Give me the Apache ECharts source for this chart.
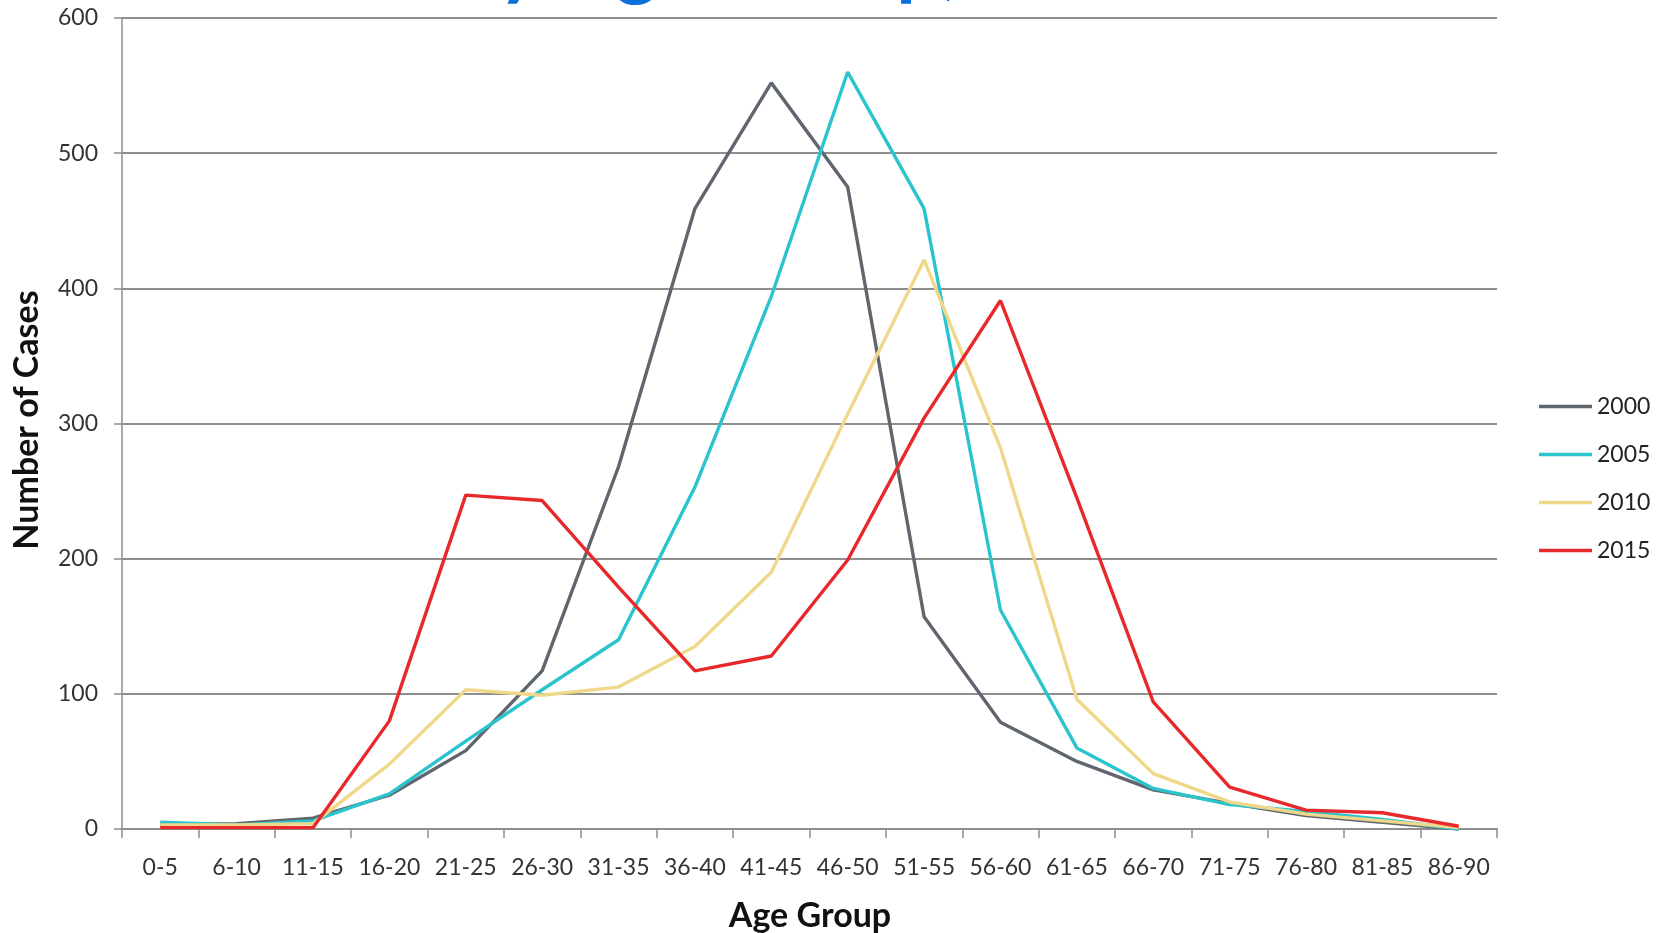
<!DOCTYPE html>
<html>
<head>
<meta charset="utf-8">
<title>Cases by Age Group</title>
<script src="https://cdn.jsdelivr.net/npm/echarts@6/dist/echarts.min.js"></script>
<style>
  html, body { margin: 0; padding: 0; background: #fff; }
  #chart { width: 1669px; height: 933px; }
</style>
</head>
<body>
<div id="chart"></div>
<script>
// age groups on the x axis
var ageGroups = ['0-5', '6-10', '11-15', '16-20', '21-25', '26-30', '31-35', '36-40', '41-45',
  '46-50', '51-55', '56-60', '61-65', '66-70', '71-75', '76-80', '81-85', '86-90']

// number of cases per year
var cases2000 = [3, 4, 8, 25, 58, 117, 268, 459, 552, 475, 157, 79, 50, 29, 19, 10, 5, 0]
var cases2005 = [5, 3, 6, 26, 65, 103, 140, 253, 394, 560, 459, 162, 60, 30, 18, 13, 7, 0]
var cases2010 = [3, 3, 4, 48, 103, 99, 105, 135, 190, 307, 421, 282, 96, 41, 20, 11, 6, 1]
var cases2015 = [1, 1, 1, 80, 247, 243, 179, 117, 128, 199, 304, 391, 245, 94, 31, 14, 12, 2]

var years = ['2000', '2005', '2010', '2015']
var colors = ['#5f666e', '#2bc4cd', '#f0d88a', '#e8292b']
var seriesData = [cases2000, cases2005, cases2010, cases2015]

var gridColor = '#8e8e8e'
var labelFont = 'Lato, "Open Sans", sans-serif'

var chart = echarts.init(document.getElementById('chart'))

var series = years.map(function (y, i) {
  return {
    name: y,
    type: 'line',
    data: seriesData[i],
    symbol: 'none',
    smooth: false,
    lineStyle: { color: colors[i], width: 3.4 },
    itemStyle: { color: colors[i] },
    z: 2 + i
  }
})

var option = {
  animation: false,
  backgroundColor: '#fff',
  color: colors,
  grid: {
    left: 122,
    right: 172,
    top: 18,
    bottom: 104,
    containLabel: false
  },
  legend: {
    data: years,
    orient: 'vertical',
    left: 1534,
    top: 390,
    itemWidth: 53,
    itemHeight: 14,
    itemGap: 25,
    icon: 'path://M0,6 L53,6 L53,9.5 L0,9.5 Z',
    textStyle: { fontSize: 23, color: '#222', fontFamily: labelFont }
  },
  xAxis: {
    type: 'category',
    data: ageGroups,
    boundaryGap: true,
    axisLine: { show: true, lineStyle: { color: gridColor, width: 2 } },
    axisTick: { show: true, length: 9, interval: 0, lineStyle: { color: gridColor, width: 1.5 } },
    axisLabel: { interval: 0, margin: 27, fontSize: 23, color: '#333', fontFamily: labelFont },
    splitLine: { show: false }
  },
  yAxis: {
    type: 'value',
    min: 0,
    max: 600,
    interval: 100,
    axisLine: { show: true, lineStyle: { color: gridColor, width: 1.5 } },
    axisTick: { show: true, length: 8, lineStyle: { color: gridColor, width: 1.5 } },
    axisLabel: { margin: 24, fontSize: 23, color: '#333', fontFamily: labelFont },
    splitLine: { show: true, lineStyle: { color: gridColor, width: 2 } }
  },
  graphic: [
    {
      // title, mostly cut off at the top of the picture
      type: 'text',
      x: 454,
      y: 4,
      style: {
        text: 'by Age Group,',
        font: 'bold 80px ' + labelFont,
        fill: '#0a6fd8',
        align: 'left',
        verticalAlign: 'bottom',
        textAlign: 'left',
        textVerticalAlign: 'bottom'
      }
    },
    {
      type: 'text',
      x: 27,
      y: 420,
      rotation: Math.PI / 2,
      style: {
        text: 'Number of Cases',
        font: 'bold 34px ' + labelFont,
        fill: '#111',
        align: 'center',
        verticalAlign: 'middle',
        textAlign: 'center',
        textVerticalAlign: 'middle'
      }
    },
    {
      type: 'text',
      x: 810,
      y: 916,
      style: {
        text: 'Age Group',
        font: 'bold 34px ' + labelFont,
        fill: '#111',
        align: 'center',
        verticalAlign: 'middle',
        textAlign: 'center',
        textVerticalAlign: 'middle'
      }
    }
  ],
  series: series
}

chart.setOption(option)
</script>
</body>
</html>
